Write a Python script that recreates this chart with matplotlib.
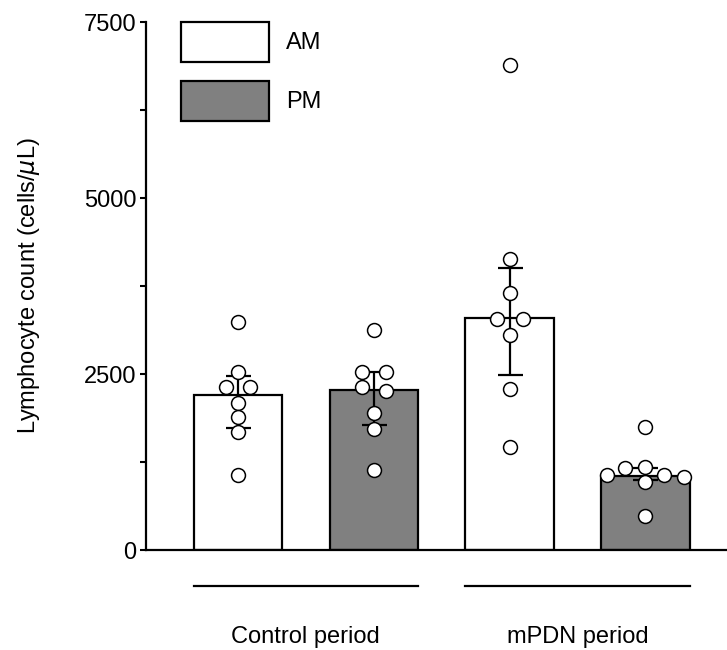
import numpy as np
import matplotlib
matplotlib.use("Agg")
import matplotlib.pyplot as plt
from matplotlib.patches import Patch
from matplotlib.ticker import MultipleLocator
import matplotlib.transforms as mtransforms

plt.rcParams['font.family'] = ['Liberation Sans', 'DejaVu Sans']

groups = ["Control period", "mPDN period"]
sessions = ["AM", "PM"]
colors = ["white", "#808080"]

# bar height (median) and error limits for AM/PM in each period
bar_values = [2200, 2270, 3290, 1045]
err_upper = [2472, 2533, 4001, 1169]
err_lower = [1733, 1775, 2486, 994]

# individual animals
am_control = [3234, 2533, 2311, 2311, 2093, 1885, 1672, 1061]
pm_control = [3125, 2533, 2533, 2320, 2263, 1950, 1714, 1136]
am_mpdn = [6885, 4129, 3646, 3277, 3277, 3054, 2287, 1459]
pm_mpdn = [1752, 1160, 1183, 1065, 1065, 1041, 970, 483]
points = [am_control, pm_control, am_mpdn, pm_mpdn]
x_offsets = [[0, 0, -0.09, 0.09, 0, 0, 0, 0],
             [0, -0.088, 0.09, -0.088, 0.09, 0, 0, 0],
             [0, 0, 0, -0.09, 0.1, 0, 0, 0],
             [0, -0.147, 0, -0.28, 0.14, 0.28, 0, 0]]

fig = plt.figure(figsize=(7.27, 6.5), dpi=100)
ax = fig.add_axes([0.2008, 0.1538, 0.7992, 0.8123])

x = np.arange(4)
bar_colors = [colors[i % 2] for i in range(4)]
ax.bar(x, bar_values, width=0.65, color=bar_colors, edgecolor="black",
       linewidth=1.6, zorder=2)
vals = np.array(bar_values)
yerr = [vals - np.array(err_lower), np.array(err_upper) - vals]
ax.errorbar(x, vals, yerr=yerr, fmt="none", ecolor="black", elinewidth=1.6,
            capsize=9, capthick=1.6, zorder=3)
for i in range(4):
    ax.plot(x[i] + np.array(x_offsets[i]), points[i], "o", ms=10,
            mfc="white", mec="black", mew=1.1, zorder=4, clip_on=False)

ax.set_xlim(-0.676, 3.6)
ax.set_ylim(0, 7500)
ax.yaxis.set_major_locator(MultipleLocator(2500))
ax.yaxis.set_minor_locator(MultipleLocator(1250))
ax.tick_params(axis="y", which="both", direction="out", length=4, width=1.5,
               labelsize=17, pad=3)
ax.set_xticks([])
for s in ["top", "right"]:
    ax.spines[s].set_visible(False)
ax.spines["left"].set_linewidth(1.6)
ax.spines["bottom"].set_linewidth(1.6)
ax.set_ylabel("Lymphocyte count (cells/$\\mu$L)", fontsize=17, labelpad=30)

# group lines and labels under the axis
trans = mtransforms.blended_transform_factory(ax.transData, ax.transAxes)
for g, name in enumerate(groups):
    left = 2 * g - 0.325
    right = 2 * g + 1 + 0.325
    ax.plot([left, right], [-0.068, -0.068], color="black", lw=1.6,
            transform=trans, clip_on=False)
    ax.text((left + right) / 2, -0.165, name, transform=trans, ha="center",
            va="center", fontsize=17)

handles = [Patch(facecolor=c, edgecolor="black", linewidth=1.6) for c in colors]
ax.legend(handles, sessions, loc="upper left", bbox_to_anchor=(0.061, 1.0),
          frameon=False, fontsize=17, handlelength=3.73, handleheight=2.22,
          labelspacing=0.8, handletextpad=0.7, borderpad=0, borderaxespad=0)

fig.savefig("out.png", dpi=100)
